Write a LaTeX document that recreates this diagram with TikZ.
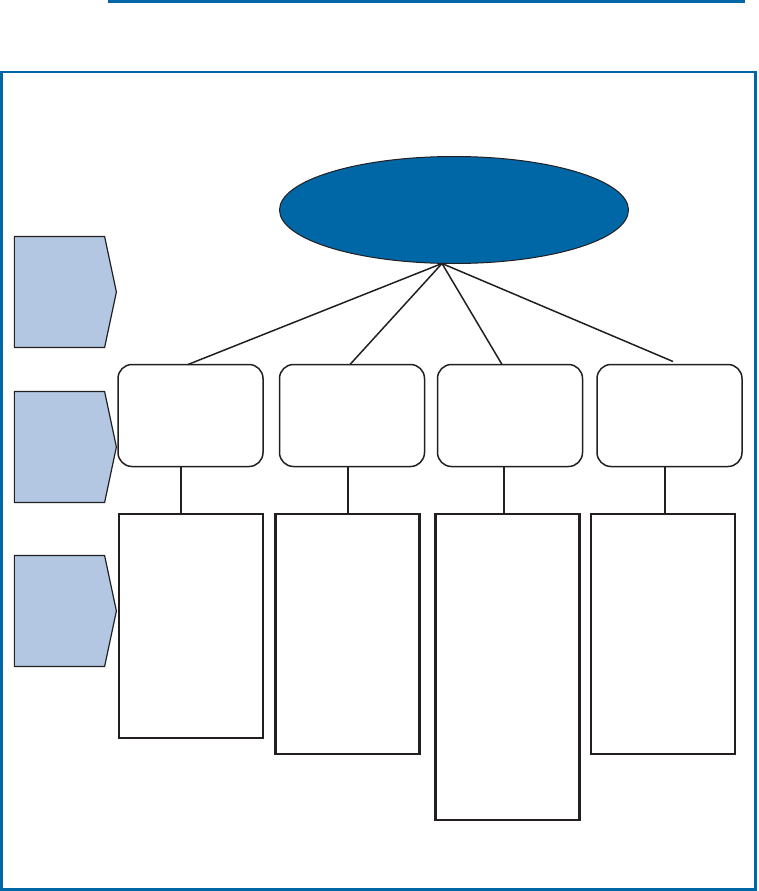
\documentclass[tikz,border=0pt]{standalone}
\usetikzlibrary{shapes.geometric,shapes.symbols}

\definecolor{frameblue}{HTML}{0067A6}
\definecolor{levelblue}{HTML}{B3C7E3}
\definecolor{ink}{HTML}{231F20}

\tikzstyle{every node}=[inner sep=0pt, outer sep=0pt]
\tikzstyle{level}=[shape=signal, signal to=east, signal pointer angle=156, draw=ink, fill=levelblue, line width=1.2pt, minimum width=102pt, minimum height=111pt]
\tikzstyle{topic}=[ellipse, draw=ink, fill=frameblue, line width=1pt, minimum width=349pt, minimum height=107pt]
\tikzstyle{heading}=[draw=ink, rounded corners=14pt, line width=1.5pt, minimum width=145pt, minimum height=102pt]
\tikzstyle{details}=[draw=ink, line width=2.2pt, minimum width=144pt]
\tikzstyle{link}=[draw=ink, line width=1.5pt]

\begin{document}
\begin{tikzpicture}[x=1pt, y=-1pt]
    \useasboundingbox (0,0) rectangle (758,891);
    \draw [frameblue, line width=2.5pt] (108,1.5) -- (745,1.5);
    \draw [frameblue, line width=2.2pt] (1.5,72) rectangle (755.5,889.5);

    % levels on the left
    \node [level] (lvl1) at (59.5,292) {};
    \node [level] (lvl2) at (59.5,447) {};
    \node [level] (lvl3) at (59.5,611) {};

    % main topic
    \node [topic] (topic) at (454,210) {};
    \coordinate (apex) at ([xshift=-12pt]topic.south);

    % headings
    \node [heading] (head1) at (190.5,415.5) {};
    \node [heading] (head2) at (352,415.5) {};
    \node [heading] (head3) at (510,415.5) {};
    \node [heading] (head4) at (669.5,415.5) {};

    % detail boxes
    \node [details, minimum height=224pt] (desc1) at (191,626) {};
    \node [details, minimum height=240pt] (desc2) at (347.5,634) {};
    \node [details, minimum height=306pt] (desc3) at (507.5,667) {};
    \node [details, minimum height=240pt] (desc4) at (663,634) {};

    \draw [link] (apex) -- ([xshift=-2.5pt]head1.north);
    \draw [link] (apex) -- ([xshift=-2pt]head2.north);
    \draw [link] (apex) -- ([xshift=-8pt]head3.north);
    \draw [link] (apex) -- ([xshift=3.5pt, yshift=3pt]head4.north);

    \coordinate (c1) at ([xshift=-10pt]desc1.north);
    \coordinate (c2) at ([xshift=0.4pt]desc2.north);
    \coordinate (c3) at ([xshift=-3.5pt]desc3.north);
    \coordinate (c4) at ([xshift=2pt]desc4.north);
    \draw [link] (c1) -- (c1 |- head1.south);
    \draw [link] (c2) -- (c2 |- head2.south);
    \draw [link] (c3) -- (c3 |- head3.south);
    \draw [link] (c4) -- (c4 |- head4.south);
\end{tikzpicture}
\end{document}
